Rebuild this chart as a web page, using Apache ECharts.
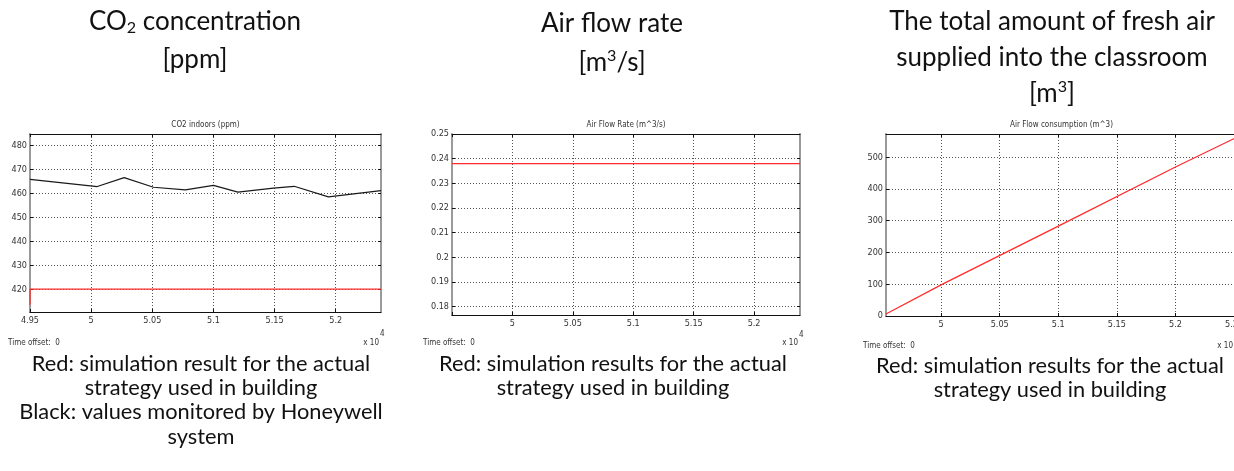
<!DOCTYPE html>
<html>
<head>
<meta charset="utf-8">
<script src="https://cdn.jsdelivr.net/npm/echarts@6/dist/echarts.min.js"></script>
<style>
  html, body { margin: 0; padding: 0; background: #fff; }
  #chart { width: 1234px; height: 471px; }
</style>
</head>
<body>
<div id="chart"></div>
<script>
// ---- data (time axis in units of 10^4 s) ----
const co2Time = [4.95, 5.005, 5.027, 5.051, 5.077, 5.1, 5.12, 5.149, 5.166, 5.194, 5.237];
const co2Measured = [465.8, 462.8, 466.5, 462.5, 461.4, 463.3, 460.5, 462.1, 462.9, 458.5, 461.1];
const co2SimTime = [4.95, 4.9501, 5.237];
const co2Simulated = [413.5, 420, 420];

const flowTime = [4.95, 5.238];
const flowRate = [0.238, 0.238];

const volumeTime = [4.953, 5.0, 5.1, 5.2, 5.252];
const volumeSupplied = [6, 98, 283, 469, 562];

const timeTicks1 = [4.95, 5, 5.05, 5.1, 5.15, 5.2];
const timeTicks2 = [5, 5.05, 5.1, 5.15, 5.2];
const timeTicks3 = [5, 5.05, 5.1, 5.15, 5.2, 5.25];
const co2Ticks = [420, 430, 440, 450, 460, 470, 480];
const flowTicks = [0.18, 0.19, 0.2, 0.21, 0.22, 0.23, 0.24, 0.25];
const volumeTicks = [0, 100, 200, 300, 400, 500];

const scopeTitles = ['CO2 indoors (ppm)', 'Air Flow Rate (m^3/s)', 'Air Flow consumption (m^3)'];

// ---- styling ----
const NARROW = '"Liberation Sans Narrow", "DejaVu Sans Condensed", "Liberation Sans", sans-serif';
const BIG = 'Lato, "Open Sans", "Noto Sans", sans-serif';
const RED = '#ff2b2b';

const pairs = (xs, ys) => xs.map((x, i) => [x, ys[i]]);
const trim = v => String(+Number(v).toFixed(3));

const grids = [
  { left: 30, top: 134, width: 351, height: 178 },
  { left: 452, top: 134, width: 348, height: 181 },
  { left: 886, top: 134, width: 351, height: 182 }
];

const xAxes = [];
const yAxes = [];

function scopeAxes(gi, xr, xTicks, xLabels, yr, yTicks) {
  const tick = { show: true, inside: true, length: 3, lineStyle: { color: '#111', width: 1 } };
  const grid = { type: [1, 2], color: '#555', width: 1 };
  const labelFont = { fontFamily: NARROW, fontSize: 9, color: '#333' };
  // bottom + top time axes
  xAxes.push({
    type: 'value', gridIndex: gi, position: 'bottom', min: xr[0], max: xr[1],
    axisLine: { show: true, onZero: false, lineStyle: { color: '#111', width: 1 } },
    axisTick: Object.assign({ customValues: xTicks }, tick),
    axisLabel: Object.assign({ customValues: xLabels, margin: 4, formatter: trim }, labelFont),
    splitLine: { show: true, lineStyle: grid }
  });
  xAxes.push({
    type: 'value', gridIndex: gi, position: 'top', min: xr[0], max: xr[1],
    axisLine: { show: true, onZero: false, lineStyle: { color: '#111', width: 1 } },
    axisTick: Object.assign({ customValues: xTicks }, tick),
    axisLabel: { show: false },
    splitLine: { show: false }
  });
  // left + right value axes
  yAxes.push({
    type: 'value', gridIndex: gi, position: 'left', min: yr[0], max: yr[1],
    axisLine: { show: true, onZero: false, lineStyle: { color: '#9a9a9a', width: 2 } },
    axisTick: Object.assign({ customValues: yTicks }, tick),
    axisLabel: Object.assign({ customValues: yTicks, margin: 3, formatter: trim }, labelFont),
    splitLine: { show: true, lineStyle: grid }
  });
  yAxes.push({
    type: 'value', gridIndex: gi, position: 'right', min: yr[0], max: yr[1],
    axisLine: { show: true, onZero: false, lineStyle: { color: '#9a9a9a', width: 2 } },
    axisTick: Object.assign({ customValues: yTicks }, tick),
    axisLabel: { show: false },
    splitLine: { show: false }
  });
}

scopeAxes(0, [4.95, 5.237], timeTicks1, timeTicks1, [410.5, 484.7], co2Ticks);
scopeAxes(1, [4.95, 5.238], [4.95].concat(timeTicks2), timeTicks2, [0.1766, 0.25], flowTicks);
scopeAxes(2, [4.953, 5.2525], timeTicks3, timeTicks3, [0, 573], volumeTicks);

function line(gi, data, color) {
  return {
    type: 'line', xAxisIndex: gi * 2, yAxisIndex: gi * 2, data: data,
    showSymbol: false, symbol: 'none', animation: false, silent: true,
    lineStyle: { color: color, width: 1.2 }
  };
}

// ---- captions and headings ----
const texts = [];
function txt(x, y, text, size, extra) {
  texts.push(Object.assign({
    type: 'text', x: x, y: y, silent: true,
    style: Object.assign({
      text: text, fill: '#111', font: size + 'px ' + BIG,
      textAlign: 'center', textVerticalAlign: 'middle'
    }, extra || {})
  }));
}
const bigRich = size => ({
  n: { fontSize: size, fontFamily: BIG, color: '#111' },
  sub: { fontSize: size * 0.62, fontFamily: BIG, color: '#111', padding: [size * 0.45, 0, 0, 0] },
  sup: { fontSize: size * 0.62, fontFamily: BIG, color: '#111', padding: [0, 0, size * 0.55, 0] }
});

const H = 26, C = 21.8;
txt(195, 22, '{n|CO}{sub|2}{n| concentration}', H, { rich: bigRich(H) });
txt(195, 60, '[ppm]', H);
txt(612, 24, 'Air flow rate', H);
txt(612, 63, '{n|[m}{sup|3}{n|/s]}', H, { rich: bigRich(H) });
txt(1052, 22, 'The total amount of fresh air', H);
txt(1052, 58, 'supplied into the classroom', H);
txt(1052, 94, '{n|[m}{sup|3}{n|]}', H, { rich: bigRich(H) });

txt(201, 364, 'Red: simulation result for the actual', C);
txt(201, 388, 'strategy used in building', C);
txt(201, 412, 'Black: values monitored by Honeywell', C);
txt(201, 437, 'system', C);
txt(613, 364, 'Red: simulation results for the actual', C);
txt(613, 388, 'strategy used in building', C);
txt(1050, 366, 'Red: simulation results for the actual', C);
txt(1050, 390, 'strategy used in building', C);

// small scope annotations
const small = { font: '8px ' + NARROW, fill: '#333' };
function smallTxt(x, y, text, align) {
  txt(x, y, text, 8, Object.assign({}, small, { textAlign: align || 'left' }));
}
grids.forEach((g, i) => smallTxt(g.left + g.width / 2, 125, scopeTitles[i], 'center'));
smallTxt(8, 343, 'Time offset:  0');
smallTxt(379, 343, 'x 10', 'right');
smallTxt(380, 334, '4');
smallTxt(423, 343, 'Time offset:  0');
smallTxt(798, 343, 'x 10', 'right');
smallTxt(799, 335, '4');
smallTxt(863, 346, 'Time offset:  0');
smallTxt(1233, 346, 'x 10', 'right');

const chart = echarts.init(document.getElementById('chart'), null, { renderer: 'canvas' });
chart.setOption({
  animation: false,
  backgroundColor: '#fff',
  grid: grids.map(g => Object.assign({ outerBoundsMode: 'none', containLabel: false }, g)),
  xAxis: xAxes,
  yAxis: yAxes,
  series: [
    line(0, pairs(co2SimTime, co2Simulated), RED),
    line(0, pairs(co2Time, co2Measured), '#1a1a1a'),
    line(1, pairs(flowTime, flowRate), RED),
    line(2, pairs(volumeTime, volumeSupplied), RED)
  ],
  graphic: texts
});
</script>
</body>
</html>
